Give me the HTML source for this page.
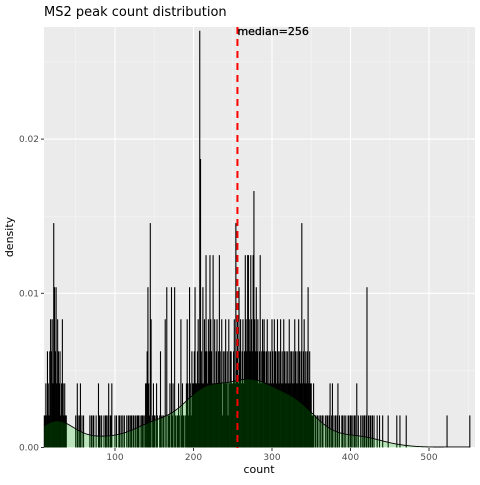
<!DOCTYPE html>
<html><head><meta charset="utf-8"><style>
body{margin:0;background:#fff;font-family:"Liberation Sans",sans-serif}
svg text{font-family:"DejaVu Sans","Liberation Sans",sans-serif}
</style></head><body>
<svg id="chart" width="480" height="480" xmlns="http://www.w3.org/2000/svg">
<text x="44" y="16" font-size="13" fill="#000">MS2 peak count distribution</text>
<rect x="44" y="27" width="431" height="421" fill="#ebebeb"/>
<g id="grid"></g><g id="bars"></g><g id="dens"></g><g id="ann"></g><g id="axes"></g>
<text x="259" y="473" font-size="11" text-anchor="middle" fill="#000">count</text>
<text transform="translate(13,237) rotate(-90)" font-size="11" text-anchor="middle" fill="#000">density</text>
</svg>
<script>
const startValue = 10;
const counts = [
1,1,2,1,3,2,1,3,4,3, 4,2,7,5,3,5,2,4,3,2, 3,1,2,4,2,1,2,1,1,0, 0,0,0,0,0,0,0,0,0,0,
1,0,2,1,0,1,2,0,1,0, 1,0,0,0,0,0,0,0,1,0, 1,0,1,1,0,0,1,0,0,2, 1,1,0,1,0,0,1,0,1,1,
0,1,2,0,1,1,2,0,0,0, 1,0,1,0,0,1,1,0,1,0, 1,0,1,0,0,1,0,1,1,0, 1,1,0,1,1,0,1,0,1,1,
1,0,1,0,1,1,1,0,1,2, 2,3,5,2,1,7,4,0,1,2, 1,1,0,2,1,0,0,1,3,1, 0,1,1,0,4,0,5,0,1,1,
2,0,5,1,2,0,5,1,0,1, 1,2,1,0,4,1,2,1,1,0, 1,2,4,2,1,5,2,1,3,2, 2,3,5,2,2,3,4,2,13,9,
3,2,5,2,4,3,6,3,2,4, 3,6,4,3,2,6,2,4,2,3, 4,2,3,6,3,2,4,1,3,2, 3,4,2,3,1,4,2,3,3,2,
2,3,4,2,7,3,4,2,5,3, 4,2,3,4,2,3,6,4,3,6, 6,4,3,6,4,3,6,8,4,3, 5,3,4,2,3,6,2,3,4,3,
4,3,2,3,4,2,3,2,3,2, 4,3,2,4,3,3,2,4,3,2, 3,4,2,3,2,4,3,2,3,2, 3,2,4,2,3,3,2,3,2,4,
3,2,3,2,4,3,2,3,7,2, 3,4,2,3,2,3,5,2,3,2, 2,1,1,2,0,1,1,0,1,0, 1,0,1,0,1,1,0,0,1,0,
1,1,0,1,2,0,1,2,0,1, 0,1,0,1,2,0,1,0,0,1, 1,0,1,0,1,0,0,1,1,0, 1,1,0,1,0,1,1,0,2,0,
1,0,0,1,0,1,0,1,1,0, 1,5,0,1,0,1,1,0,1,0, 1,0,0,0,1,0,0,1,0,0, 0,1,0,0,0,0,0,0,1,0,
0,0,0,0,0,0,0,0,0,1, 0,0,0,1,0,0,0,0,0,0, 0,1,0,0,0,0,0,0,0,0, 0,0,0,0,0,0,0,0,0,0,
0,0,0,0,0,0,0,0,0,0, 0,0,0,0,0,0,0,0,0,0, 0,0,0,0,0,0,0,0,0,0, 0,0,0,1,0,0,0,0,0,0,
0,0,0,0,0,0,0,0,0,0, 0,0,0,0,0,0,0,0,0,0, 0,0,1];
const nObs = 481;
const medianValue = 256;
const xTicks = [100,200,300,400,500];
const yTicks = [0,0.01,0.02];
const yTickLabels = ["0.00","0.01","0.02"];

const NS="http://www.w3.org/2000/svg";
const X0=44,X1=475,Y0=27,Y1=448;
const xMin=9.6,xMax=558.6,yMax=0.02727;
const xs=v=>X0+(v-xMin)/(xMax-xMin)*(X1-X0);
const ys=v=>Y1-0.5-v/yMax*(Y1-0.5-Y0);
function mk(tag,attrs,parent){const e=document.createElementNS(NS,tag);for(const k in attrs)e.setAttribute(k,attrs[k]);parent.appendChild(e);return e;}
const grid=document.getElementById('grid');
for(let v=50;v<=550;v+=100){const l=mk('line',{x1:xs(v),x2:xs(v),y1:Y0,y2:Y1,stroke:'#f5f5f5','stroke-width':0.6},grid);

}
for(let v=0.005;v<yMax;v+=0.01){const l=mk('line',{x1:X0,x2:X1,y1:ys(v),y2:ys(v),stroke:'#f5f5f5','stroke-width':0.6},grid);

}
xTicks.forEach(v=>{const l=mk('line',{x1:xs(v),x2:xs(v),y1:Y0,y2:Y1,stroke:'#fff','stroke-width':1.1},grid);

});
yTicks.forEach(v=>{const l=mk('line',{x1:X0,x2:X1,y1:ys(v),y2:ys(v),stroke:'#fff','stroke-width':1.1},grid);

});
const bars=document.getElementById('bars');
counts.forEach((c,i)=>{if(!c)return;const v=startValue+i;const d=c/nObs;
const x=xs(v-0.5),w=xs(v+0.5)-x;
const r=mk('rect',{x:x-0.15,y:ys(d),width:w+0.3,height:ys(0)-ys(d),fill:'#000'},bars);

});
let total=0;counts.forEach(c=>total+=c);
const bw=22;const pts=[];const lastV=startValue+counts.length-1;
for(let v=startValue;v<=lastV;v+=1){let s=0;counts.forEach((c,i)=>{if(c){const z=(v-startValue-i)/bw;s+=c*Math.exp(-0.5*z*z);}});
pts.push([v,s/(total*bw*Math.sqrt(2*Math.PI))]);}
const dens=document.getElementById('dens');
let dA=`M${xs(pts[0][0])},${ys(0)}`;pts.forEach(p=>dA+=`L${xs(p[0]).toFixed(2)},${ys(p[1]).toFixed(2)}`);dA+=`L${xs(lastV)},${ys(0)}Z`;
const area=mk('path',{d:dA,fill:'#00c800','fill-opacity':0.2},dens);


let dL='';pts.forEach((p,i)=>dL+=(i?'L':'M')+xs(p[0]).toFixed(2)+','+ys(p[1]).toFixed(2));
const line=mk('path',{d:dL,fill:'none',stroke:'#000','stroke-width':0.9},dens);


const ann=document.getElementById('ann');
const ml=mk('line',{x1:xs(medianValue),x2:xs(medianValue),y1:Y0,y2:Y1,stroke:'#ff0000','stroke-width':2,'stroke-dasharray':'7,5'},ann);


const mt=mk('text',{x:xs(medianValue),y:35,'font-size':11,fill:'#000',stroke:'#000','stroke-width':0.3},ann);
mt.textContent='median='+medianValue;


const axes=document.getElementById('axes');
xTicks.forEach(v=>{const t=mk('line',{x1:xs(v),x2:xs(v),y1:Y1,y2:Y1+3,stroke:'#333','stroke-width':1},axes);


const tx=mk('text',{x:xs(v),y:Y1+12,'font-size':9,'text-anchor':'middle',fill:'#4d4d4d'},axes);tx.textContent=v;

});
yTicks.forEach((v,i)=>{const t=mk('line',{x1:X0-3,x2:X0,y1:ys(v),y2:ys(v),stroke:'#333','stroke-width':1},axes);


const tx=mk('text',{x:X0-5,y:ys(v)+3,'font-size':9,'text-anchor':'end',fill:'#4d4d4d'},axes);tx.textContent=yTickLabels[i];

});
</script>
</body></html>
